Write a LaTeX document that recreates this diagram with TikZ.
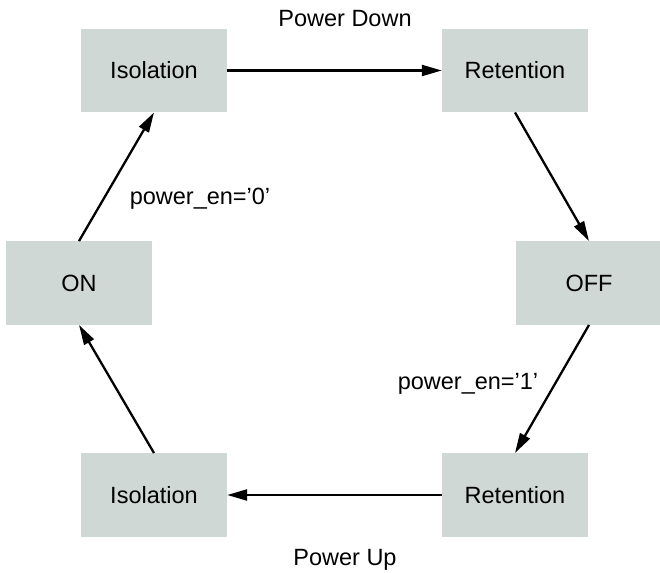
\documentclass[tikz,border=0pt]{standalone}
\usepackage{fontspec}
\setmainfont{Liberation Sans}
\usetikzlibrary{arrows.meta, positioning}
\definecolor{statefill}{RGB}{207,216,212}

\begin{document}
\begin{tikzpicture}[
  x=1pt, y=-1pt,
  every node/.style={font=\fontsize{23.5}{28}\selectfont},
  state/.style={rectangle, fill=statefill, minimum width=146pt, minimum height=83.5pt, inner sep=0pt},
  trans/.style={line width=2.3pt, -{Triangle[length=20pt, width=11pt]}},
]
  \useasboundingbox (0,0) rectangle (660,572);

  \node[state] (isotop) at (154,70.5) {Isolation};
  \node[state] (rettop) at (515,70.5) {Retention};
  \node[state] (on)     at (79,283)   {ON};
  \node[state] (off)    at (589,283)  {OFF};
  \node[state] (isobot) at (154,495)  {Isolation};
  \node[state] (retbot) at (515,495)  {Retention};

  \node[anchor=base] (pdown) at (345,27)  {Power Down};
  \node[anchor=base] (pup)   at (345,565) {Power Up};
  \node[anchor=base] (en0)   at (200,204) {power\_en=’0’};
  \node[anchor=base] (en1)   at (468,389) {power\_en=’1’};

  \draw[trans] (isotop.east) -- (rettop.west);
  \draw[trans] (rettop.south) -- (off.north);
  \draw[trans] (off.south) -- (retbot.north);
  \draw[trans] (retbot.west) -- (isobot.east);
  \draw[trans] (isobot.north) -- (on.south);
  \draw[trans] (on.north) -- (isotop.south);
\end{tikzpicture}
\end{document}
